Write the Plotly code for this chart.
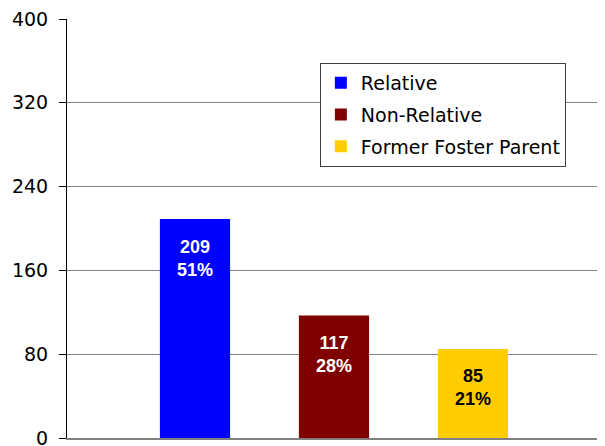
import plotly.graph_objects as go

categories = ["Relative", "Non-Relative", "Former Foster Parent"]
counts = [209, 117, 85]
percents = ["51%", "28%", "21%"]
colors = ["#0000FF", "#800000", "#FFCC00"]
label_colors = ["white", "white", "black"]
y_ticks = [0, 80, 160, 240, 320, 400]

fig = go.Figure()
for i, (cat, val) in enumerate(zip(categories, counts)):
    fig.add_trace(go.Bar(
        x=[i], y=[val], name=cat, width=0.505,
        marker=dict(color=colors[i], line=dict(width=0)),
        legendgroup=cat, hoverinfo="skip",
    ))
    fig.add_annotation(
        x=i, y=val, text=f"<b>{val}<br>{percents[i]}</b>", showarrow=False,
        yanchor="middle", yshift=-39,
        font=dict(family="Liberation Sans, Arial", size=18, color=label_colors[i]),
    )

fig.update_layout(
    width=605, height=446,
    margin=dict(l=59, r=8, t=11, b=15.5, autoexpand=False),
    paper_bgcolor="white", plot_bgcolor="white",
    showlegend=True,
    legend=dict(
        x=0.47, y=0.895, xanchor="left", yanchor="top",
        bgcolor="white", bordercolor="#404040", borderwidth=1,
        font=dict(family="DejaVu Sans, Verdana", size=19, color="black"),
        traceorder="grouped", tracegroupgap=4,
    ),
    xaxis=dict(
        range=[-0.921, 2.95], showticklabels=False, showgrid=False,
        zeroline=False, showline=True, linecolor="#808080", linewidth=2,
        ticks="", fixedrange=True,
    ),
    yaxis=dict(
        range=[0, 400], tickvals=y_ticks, ticks="outside", ticklen=7,
        tickcolor="black", showline=True, linecolor="black", linewidth=1,
        showgrid=True, gridcolor="#808080", gridwidth=1, zeroline=False,
        ticklabelstandoff=7, ticklabeloverflow="allow",
        tickfont=dict(family="DejaVu Sans, Verdana", size=19, color="black"),
    ),
)

fig.write_html("out.html")
